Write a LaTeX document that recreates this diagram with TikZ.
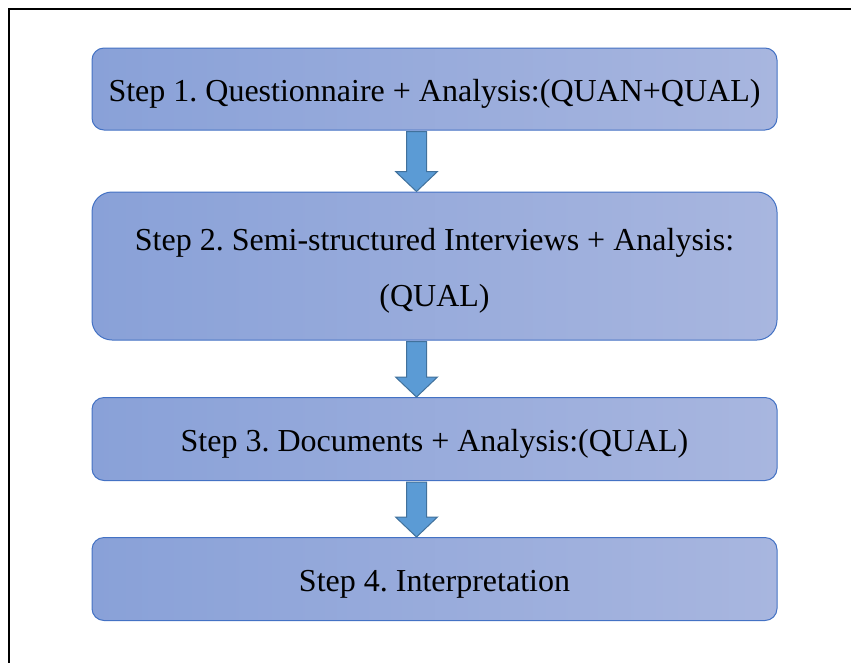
\documentclass[tikz,border=0pt]{standalone}
\usepackage{fontspec}
\setmainfont{Liberation Serif}
\usetikzlibrary{calc}
\frenchspacing
\definecolor{boxleft}{RGB}{137,161,216}
\definecolor{boxright}{RGB}{168,182,223}
\definecolor{boxedge}{RGB}{68,114,196}
\definecolor{arrfill}{RGB}{91,155,213}
\definecolor{arredge}{RGB}{65,113,156}
\newcommand\lowered[1]{\raisebox{-5pt}[\height][\depth]{#1}}
\tikzset{
  stepbox/.style={draw=boxedge, line width=1pt, rounded corners=12pt,
    left color=boxleft, right color=boxright, minimum width=685pt,
    text=black, font=\fontsize{32}{56}\selectfont, align=center, inner sep=0pt},
  flowarr/.style={draw=arredge, line width=1pt, fill=arrfill, line join=miter},
  frameline/.style={line width=2.2pt, black}
}
\newcommand\flowarrow[2]{%
  \draw[flowarr] ($(#1.south)+(-28,-1)$) -- ($(#1.south)+(-8,-1)$)
    -- ($(#2.north)+(-8,20)$) -- ($(#2.north)+(3,20)$) -- ($(#2.north)+(-18,0)$)
    -- ($(#2.north)+(-39,20)$) -- ($(#2.north)+(-28,20)$) -- cycle;}
\begin{document}
\begin{tikzpicture}[x=1pt,y=1pt]
\useasboundingbox (0,0) rectangle (851,-662);
\coordinate (ftop) at (9,-9);
\coordinate (fright) at (852,-9);
\coordinate (fbot) at (9,-663);
\draw[frameline] (fright) -- (ftop) -- (fbot);
\node[stepbox, minimum height=82pt] (b1) at (434.5,-89) {\lowered{Step 1. Questionnaire + Analysis:(QUAN+QUAL)}};
\node[stepbox, minimum height=148pt, rounded corners=20pt] (b2) at (434.5,-266) {\lowered{Step 2. Semi-structured Interviews + Analysis:}\\\lowered{(QUAL)}};
\node[stepbox, minimum height=83pt] (b3) at (434.5,-439) {\lowered{Step 3. Documents + Analysis:(QUAL)}};
\node[stepbox, minimum height=83pt] (b4) at (434.5,-579) {\lowered{Step 4. Interpretation}};
\flowarrow{b1}{b2}
\flowarrow{b2}{b3}
\flowarrow{b3}{b4}
\end{tikzpicture}
\end{document}
